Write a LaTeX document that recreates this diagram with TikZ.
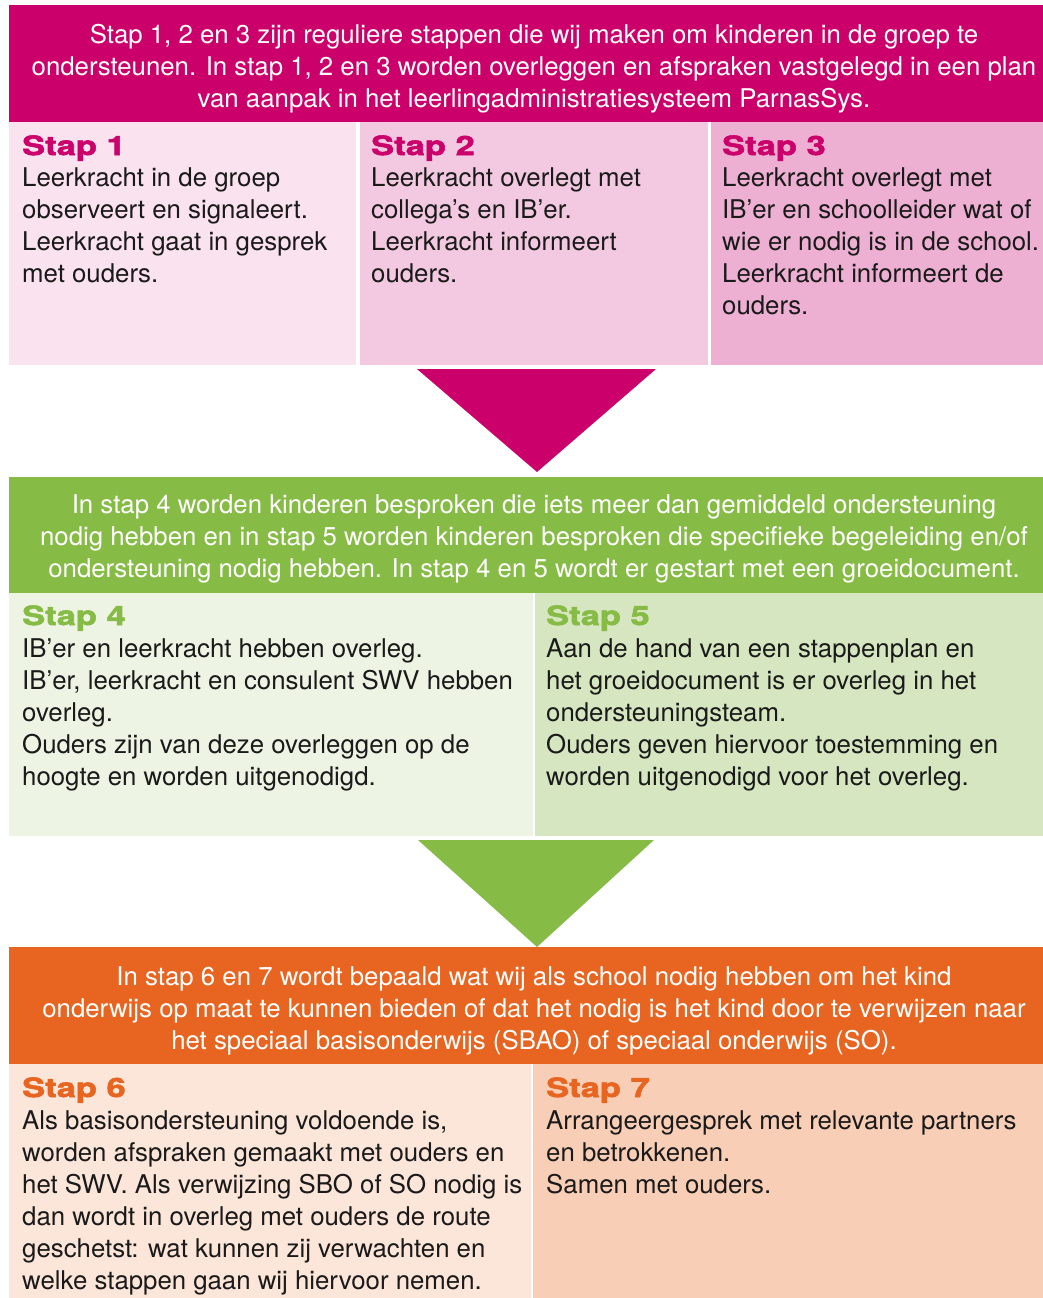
\documentclass[tikz,border=0pt]{standalone}
\usepackage{fontspec}
\setmainfont{TeX Gyre Heros}
\newfontfamily\headfont[FakeStretch=1.3,FakeBold=2.2]{TeX Gyre Heros Bold}
\definecolor{mag}{RGB}{204,0,106}
\definecolor{pinkA}{RGB}{250,226,238}
\definecolor{pinkB}{RGB}{243,201,225}
\definecolor{pinkC}{RGB}{237,176,211}
\definecolor{grn}{RGB}{134,188,69}
\definecolor{grnA}{RGB}{237,244,228}
\definecolor{grnB}{RGB}{214,230,192}
\definecolor{org}{RGB}{232,101,33}
\definecolor{orgA}{RGB}{252,229,217}
\definecolor{orgB}{RGB}{249,206,183}
\definecolor{body}{RGB}{26,26,26}
\begin{document}
\begin{tikzpicture}[x=1pt,y=-1pt,
  txt/.style={inner sep=0pt,anchor=base west,align=left,text=body,
    font=\fontsize{25.8}{32}\selectfont},
  hdtxt/.style={inner sep=0pt,anchor=base,align=center,text=white,
    font=\fontsize{25.8}{32}\selectfont},
  stephead/.style={inner sep=0pt,anchor=base west,
    font=\fontsize{26.5}{32}\selectfont\headfont}]
\useasboundingbox (0,0) rectangle (1043,1298);
% ---- block 1 (anchors: baseline of the LAST line)
\fill[mag] (9,5) rectangle (1043,122);
\fill[pinkA] (9,122) rectangle (356,365);
\fill[pinkB] (360,122) rectangle (708,365);
\fill[pinkC] (711,122) rectangle (1043,365);
\node[hdtxt] (h1) at (534,107) {Stap 1, 2 en 3 zijn reguliere stappen die wij maken om kinderen in de groep te\\ondersteunen. In stap 1, 2 en 3 worden overleggen en afspraken vastgelegd in een plan\\van aanpak in het leerlingadministratiesysteem ParnasSys.};
\node[stephead,text=mag] (s1) at (22,155) {Stap 1};
\node[txt] (t1) at (22,282) {Leerkracht in de groep\\observeert en signaleert.\\Leerkracht gaat in gesprek\\met ouders.};
\node[stephead,text=mag] (s2) at (371,155) {Stap 2};
\node[txt] (t2) at (371,282) {Leerkracht overlegt met\\collega’s en IB’er.\\Leerkracht informeert\\ouders.};
\node[stephead,text=mag] (s3) at (722,155) {Stap 3};
\node[txt] (t3) at (722,314) {Leerkracht overlegt met\\IB’er en schoolleider wat of\\wie er nodig is in de school.\\Leerkracht informeert de\\ouders.};
\fill[mag] (417,369) -- (656,369) -- (537,472) -- cycle;
% ---- block 2
\fill[grn] (9,477) rectangle (1043,593);
\fill[grnA] (9,593) rectangle (533,836);
\fill[grnB] (535,593) rectangle (1043,836);
\node[hdtxt] (h2) at (534,577) {In stap 4 worden kinderen besproken die iets meer dan gemiddeld ondersteuning\\nodig hebben en in stap 5 worden kinderen besproken die specifieke begeleiding en/of\\ondersteuning nodig hebben. In stap 4 en 5 wordt er gestart met een groeidocument.};
\node[stephead,text=grn] (s4) at (22,625) {Stap 4};
\node[txt] (t4) at (22,785) {IB’er en leerkracht hebben overleg.\\IB’er, leerkracht en consulent SWV hebben\\overleg.\\Ouders zijn van deze overleggen op de\\hoogte en worden uitgenodigd.};
\node[stephead,text=grn] (s5) at (546,625) {Stap 5};
\node[txt] (t5) at (546,785) {Aan de hand van een stappenplan en\\het groeidocument is er overleg in het\\ondersteuningsteam.\\Ouders geven hiervoor toestemming en\\worden uitgenodigd voor het overleg.};
\fill[grn] (418,840) -- (654,840) -- (537,947) -- cycle;
% ---- block 3
\fill[org] (9,947) rectangle (1043,1064);
\fill[orgA] (9,1064) rectangle (531,1298);
\fill[orgB] (533,1064) rectangle (1043,1298);
\node[hdtxt] (h3) at (534,1049) {In stap 6 en 7 wordt bepaald wat wij als school nodig hebben om het kind\\onderwijs op maat te kunnen bieden of dat het nodig is het kind door te verwijzen naar\\het speciaal basisonderwijs (SBAO) of speciaal onderwijs (SO).};
\node[stephead,text=org] (s6) at (22,1097) {Stap 6};
\node[txt] (t6) at (22,1289) {Als basisondersteuning voldoende is,\\worden afspraken gemaakt met ouders en\\het SWV. Als verwijzing SBO of SO nodig is\\dan wordt in overleg met ouders de route\\geschetst: wat kunnen zij verwachten en\\welke stappen gaan wij hiervoor nemen.};
\node[stephead,text=org] (s7) at (546,1097) {Stap 7};
\node[txt] (t7) at (546,1193) {Arrangeergesprek met relevante partners\\en betrokkenen.\\Samen met ouders.};
\end{tikzpicture}
\end{document}
